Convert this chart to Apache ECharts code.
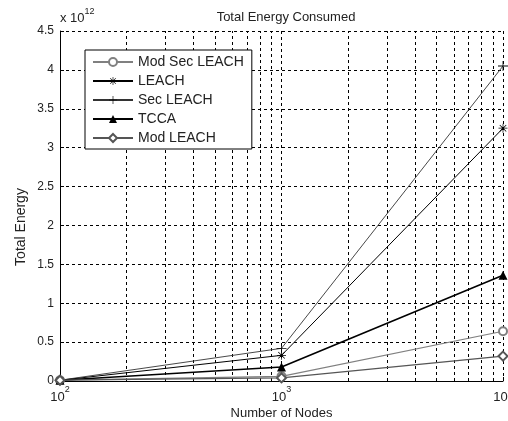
<!DOCTYPE html>
<html><head><meta charset="utf-8">
<script src="https://cdn.jsdelivr.net/npm/echarts@6/dist/echarts.min.js"></script>
<style>html,body{margin:0;padding:0;background:#fff}#c{width:508px;height:421px}</style>
</head><body><div id="c"></div>
<script>
// Data (energy in units of 10^12)
const nodes = [100, 1000, 10000];
const modSecLeach = [0.01, 0.06, 0.64];
const leach = [0.01, 0.33, 3.25];
const secLeach = [0.01, 0.42, 4.05];
const tcca = [0.01, 0.18, 1.36];
const modLeach = [0.01, 0.04, 0.32];
const minorX = [200,300,400,500,600,700,800,900,2000,3000,4000,5000,6000,7000,8000,9000];

const F = 'Liberation Sans, Arial, sans-serif';
const plusPath = 'path://M4.6,0h0.8v4.6h4.6v0.8h-4.6v4.6h-0.8v-4.6h-4.6v-0.8h4.6z';
const starPath = 'path://M4.6,0h0.8v4.6h4.6v0.8h-4.6v4.6h-0.8v-4.6h-4.6v-0.8h4.6z M1.7,1.1L5,4.4L8.3,1.1L8.9,1.7L5.6,5L8.9,8.3L8.3,8.9L5,5.6L1.7,8.9L1.1,8.3L4.4,5L1.1,1.7z';

function pts(arr){ return nodes.map((n,i)=>[n,arr[i]]); }

const chart = echarts.init(document.getElementById('c'), null, {renderer:'canvas'});
const dash = {color:'#000', type:[3,3], width:1};
chart.setOption({
  animation:false,
  backgroundColor:'#fff',
  title:{text:'Total Energy Consumed', left:281, top:6, textAlign:'center',
    textStyle:{fontFamily:F, fontSize:13, fontWeight:'normal', color:'#222'}},
  grid:{left:60, right:5, top:31, bottom:40, outerBoundsMode:'none', containLabel:false},
  legend:{
    orient:'vertical', left:85, top:50, itemWidth:40, itemHeight:10, itemGap:5,
    padding:[5,8,4,7], backgroundColor:'#fff', borderColor:'#000', borderWidth:1,
    textStyle:{fontFamily:F, fontSize:14, color:'#222'},
    data:['Mod Sec LEACH','LEACH','Sec LEACH','TCCA','Mod LEACH']
  },
  xAxis:{
    type:'log', logBase:10, min:100, max:10000,
    name:'Number of Nodes', nameLocation:'middle', nameGap:26, nameMoveOverlap:false,
    nameTextStyle:{fontFamily:F, fontSize:13, color:'#222'},
    axisLine:{lineStyle:{color:'#000'}},
    axisTick:{inside:true, length:4, lineStyle:{color:'#000'}},
    splitLine:{show:true, lineStyle:dash},
    axisLabel:{
      margin:4,
      formatter: v => '{b|10}{s|' + Math.round(Math.log10(v)) + '}',
      rich:{b:{fontFamily:F, fontSize:13, color:'#222', padding:[6,0,0,0]},
            s:{fontFamily:F, fontSize:9, color:'#222', verticalAlign:'top', padding:[0,0,6,0]}}
    }
  },
  yAxis:{
    type:'value', min:0, max:4.5, interval:0.5,
    axisLine:{show:true, lineStyle:{color:'#000'}},
    axisTick:{show:true, inside:true, length:4, lineStyle:{color:'#000'}},
    splitLine:{show:true, lineStyle:dash},
    axisLabel:{fontFamily:F, fontSize:12, color:'#222', margin:6,
      formatter: v => String(v)}
  },
  graphic:[
    {type:'text', x:21, y:227, rotation:Math.PI/2,
      style:{text:'Total Energy', font:'14px '+F, fill:'#222', align:'center', verticalAlign:'middle'}},
    {type:'text', x:60, y:7,
      style:{text:'{a|x 10}{s|12}', rich:{a:{fontFamily:F, fontSize:13, fill:'#222', padding:[5,0,0,0]}, s:{fontFamily:F, fontSize:9, fill:'#222', verticalAlign:'top'}}}}
  ],
  series:[
    {name:'Mod Sec LEACH', type:'line', data:pts(modSecLeach), symbol:'emptyCircle', symbolSize:8,
      lineStyle:{color:'#808080', width:1.2}, itemStyle:{color:'#808080', borderColor:'#808080'}, z:3,
      markLine:{silent:true, symbol:'none', label:{show:false}, lineStyle:dash, z:1,
        data: minorX.map(x=>({xAxis:x}))}},
    {name:'LEACH', type:'line', data:pts(leach), symbol:starPath, symbolSize:9,
      lineStyle:{color:'#000', width:1}, itemStyle:{color:'#000'}, z:3},
    {name:'Sec LEACH', type:'line', data:pts(secLeach), symbol:plusPath, symbolSize:10,
      lineStyle:{color:'#333', width:0.9}, itemStyle:{color:'#000'}, z:3},
    {name:'TCCA', type:'line', data:pts(tcca), symbol:'triangle', symbolSize:9,
      lineStyle:{color:'#000', width:1.6}, itemStyle:{color:'#000'}, z:3},
    {name:'Mod LEACH', type:'line', data:pts(modLeach), symbol:'emptyDiamond', symbolSize:9,
      lineStyle:{color:'#555', width:1.2}, itemStyle:{color:'#555', borderColor:'#555'}, z:3}
  ]
});
</script></body></html>
